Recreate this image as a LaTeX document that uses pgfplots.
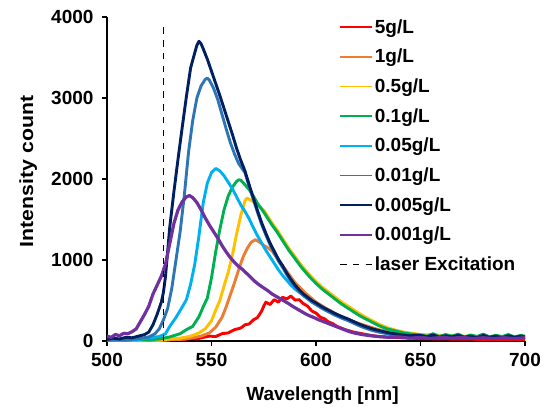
\documentclass[border=0pt]{standalone}
\usepackage{fontspec}
\setmainfont{Liberation Sans}
\usepackage{graphicx}
\usepackage{pgfplots}
\pgfplotsset{compat=1.18}

\definecolor{cFive}{HTML}{FF0000}
\definecolor{cOne}{HTML}{ED7D31}
\definecolor{cHalf}{HTML}{FFC000}
\definecolor{cTenth}{HTML}{00B050}
\definecolor{cFiveH}{HTML}{00B0F0}
\definecolor{cOneH}{HTML}{2E75B6}
\definecolor{cFiveT}{HTML}{002060}
\definecolor{cOneT}{HTML}{7030A0}

\newcommand{\labfont}{\fontsize{19}{22}\selectfont\bfseries}

\begin{document}
\begin{tikzpicture}
\useasboundingbox (0,0) rectangle (548pt,407pt);
\begin{axis}[
  at={(107pt,66pt)}, anchor=south west,
  width=418pt, height=324pt, scale only axis,
  xmin=500, xmax=700, ymin=0, ymax=4000,
  axis x line*=bottom, axis y line*=left,
  axis line style={-, line width=1.1pt, black},
  xtick={500,550,...,700}, ytick={0,1000,...,4000},
  tick align=outside, major tick length=5pt,
  tick style={line width=1.1pt, black},
  /pgf/number format/assume math mode=true,
  /pgf/number format/set thousands separator={},
  ticklabel style={font=\labfont},
  yticklabel style={xshift=-5pt},
  xticklabel style={yshift=-4pt},
  xlabel={\labfont Wavelength [nm]},
  xlabel style={at={(axis description cs:0.5155,-0.185)}, anchor=base},
  ylabel={\labfont\scalebox{1.12}[1]{Intensity count}},
  ylabel style={at={(axis description cs:-0.177,0.523)}, anchor=base},
  legend cell align=left,
  legend image code/.code={\draw[line width=1.7pt] (0pt,0pt) -- (32pt,0pt);},
  legend style={at={(axis description cs:0.555,0.999)}, anchor=north west,
    draw=none, fill=none, inner sep=0pt, row sep=10.4pt, font=\labfont},
  every axis plot/.append style={line width=2.9pt, line join=round},
]

% 5 g/L
\addplot[cFive] coordinates {
(500,10)(504,0)(508,15)(512,5)(516,10)(520,0)(524,15)(528,10)(532,20)(536,15)
(540,30)(543,25)(546,45)(549,60)(552,55)(555,90)(558,100)(561,140)(564,160)
(566,200)(568,210)(570,260)(572,290)(574,370)(575,430)(576,480)(578,450)
(580,510)(582,480)(584,540)(586,520)(588,555)(590,505)(592,510)(594,460)
(596,430)(598,370)(600,345)(602,295)(604,275)(606,235)(608,215)(610,180)
(614,140)(618,110)(622,90)(626,70)(630,55)(640,40)(650,30)(660,25)(680,20)(700,20)};
\addlegendentry{5g/L}

% 1 g/L
\addplot[cOne] coordinates {
(500,5)(505,0)(510,10)(515,5)(520,10)(525,5)(530,15)(535,20)(540,35)(545,60)
(549,100)(552,170)(555,290)(557,420)(559,570)(561,720)(563,880)(565,1030)
(567,1140)(569,1220)(571,1250)(573,1220)(575,1180)(577,1150)(579,1110)
(582,1000)(586,860)(590,720)(595,590)(600,480)(605,400)(610,330)(615,270)
(620,220)(630,140)(640,90)(650,65)(670,50)(700,40)};
\addlegendentry{1g/L}

% 0.5 g/L
\addplot[cHalf] coordinates {
(500,0)(505,10)(510,5)(515,10)(520,15)(525,10)(530,25)(535,35)(540,60)(544,100)
(547,150)(550,250)(552,380)(554,500)(556,680)(558,850)(560,1060)(562,1320)
(564,1550)(566,1730)(567,1765)(568,1750)(570,1720)(572,1680)(575,1615)
(577,1535)(579,1455)(581,1385)(583,1305)(585,1225)(587,1145)(589,1075)
(591,1005)(593,935)(595,875)(597,815)(600,735)(603,665)(606,605)(609,545)
(612,485)(615,435)(618,385)(621,335)(624,290)(627,250)(630,210)(634,165)
(638,135)(642,110)(646,95)(650,80)(660,70)(670,60)(680,55)(690,50)(700,50)};
\addlegendentry{0.5g/L}

% 0.1 g/L
\addplot[cTenth] coordinates {
(500,5)(505,0)(510,10)(515,15)(520,15)(525,25)(530,50)(535,90)(538,140)(541,180)
(544,300)(546,420)(548,530)(550,780)(552,1100)(554,1380)(556,1620)(558,1790)
(560,1900)(562,1970)(563,1990)(564,1985)(566,1930)(568,1870)(570,1790)
(572,1700)(575,1590)(577,1510)(579,1430)(581,1360)(583,1280)(585,1200)
(587,1120)(589,1050)(591,980)(593,910)(595,850)(597,790)(600,710)(603,640)
(606,580)(609,520)(612,460)(615,410)(618,360)(621,310)(624,270)(627,230)
(630,190)(634,150)(638,125)(642,100)(646,85)(650,75)(653,60)(656,90)(659,55)
(662,80)(665,60)(668,85)(671,50)(674,75)(677,55)(680,85)(683,50)(686,70)
(689,55)(692,80)(695,50)(698,70)(700,60)};
\addlegendentry{0.1g/L}

% 0.05 g/L
\addplot[cFiveH] coordinates {
(500,10)(505,5)(510,15)(515,20)(520,40)(525,55)(528,90)(530,180)(533,290)
(536,420)(538,510)(540,700)(542,950)(544,1300)(546,1700)(548,1950)(550,2080)
(552,2130)(554,2100)(556,2040)(558,1960)(560,1880)(562,1780)(564,1680)
(566,1600)(568,1510)(570,1400)(572,1300)(574,1210)(576,1120)(578,1040)
(580,960)(582,880)(584,810)(586,750)(588,690)(590,640)(592,600)(595,550)
(598,490)(600,450)(604,400)(608,350)(612,300)(616,250)(620,200)(625,160)
(630,120)(635,90)(640,70)(650,55)(660,45)(680,40)(700,40)};
\addlegendentry{0.05g/L}

% 0.01 g/L
\addplot[cOneH] coordinates {
(500,10)(505,20)(510,15)(515,30)(520,50)(523,90)(525,150)(527,260)(529,400)
(531,650)(533,1000)(535,1350)(537,1800)(539,2330)(541,2720)(543,3000)
(545,3150)(547,3230)(548,3245)(549,3220)(551,3120)(553,2980)(555,2800)
(557,2620)(559,2450)(561,2310)(563,2190)(566,2080)(568,1910)(570,1750)
(572,1590)(574,1440)(576,1310)(578,1190)(580,1090)(582,990)(584,910)
(586,820)(588,740)(590,670)(592,610)(594,560)(596,520)(598,480)(600,450)
(603,400)(606,360)(609,320)(612,285)(615,255)(618,220)(621,185)(624,155)
(627,130)(630,110)(635,85)(640,65)(650,50)(670,45)(700,40)};
\addlegendentry{0.01g/L}

% 0.005 g/L
\addplot[cFiveT] coordinates {
(500,20)(503,35)(506,25)(509,45)(512,40)(515,60)(518,80)(520,110)(522,200)
(524,330)(526,480)(527,600)(528,800)(530,1400)(532,1840)(534,2250)(536,2640)
(538,3020)(540,3370)(542,3560)(543,3650)(544,3700)(545,3670)(546,3610)
(548,3480)(550,3330)(552,3180)(554,3030)(556,2870)(558,2710)(560,2550)
(562,2380)(564,2230)(566,2100)(568,1930)(570,1770)(572,1610)(574,1460)
(576,1330)(578,1210)(580,1110)(582,1010)(584,930)(586,840)(588,760)(590,690)
(592,630)(594,580)(596,540)(598,500)(600,470)(603,420)(606,380)(609,340)
(612,305)(615,275)(618,240)(621,205)(624,175)(627,150)(630,130)(635,100)
(640,80)(645,65)(650,70)(653,50)(656,75)(659,45)(662,65)(665,50)(668,70)
(671,45)(674,60)(677,40)(680,70)(683,45)(686,60)(689,40)(692,65)(695,45)
(698,60)(700,50)};
\addlegendentry{0.005g/L}

% 0.001 g/L
\addplot[cOneT, line width=3.2pt] coordinates {
(500,60)(502,45)(504,80)(506,65)(508,95)(510,90)(512,115)(514,150)(516,240)
(518,330)(520,430)(522,580)(524,690)(526,800)(528,950)(530,1200)(532,1450)
(534,1620)(536,1720)(538,1780)(539.5,1795)(541,1770)(543,1710)(545,1620)
(547,1520)(549,1430)(551,1350)(553,1270)(555,1180)(557,1100)(559,1030)
(561,970)(563,920)(565,880)(567,830)(569,780)(571,730)(573,690)(575,655)
(577,620)(579,580)(581,550)(583,520)(585,490)(587,460)(589,425)(591,395)
(593,365)(595,335)(597,310)(599,290)(601,265)(604,235)(607,205)(610,175)
(613,145)(616,115)(619,95)(622,80)(626,65)(630,55)(635,45)(640,50)(645,35)
(650,45)(655,30)(660,45)(665,35)(670,45)(675,30)(680,40)(685,30)(690,40)
(695,30)(700,40)};
\addlegendentry{0.001g/L}

% excitation wavelength
\addplot[black, line width=1.8pt, dash pattern=on 6.5pt off 6.3pt]
  coordinates {(527,0)(527,3920)};
\addlegendentry{laser Excitation}

\end{axis}
\end{tikzpicture}
\end{document}
